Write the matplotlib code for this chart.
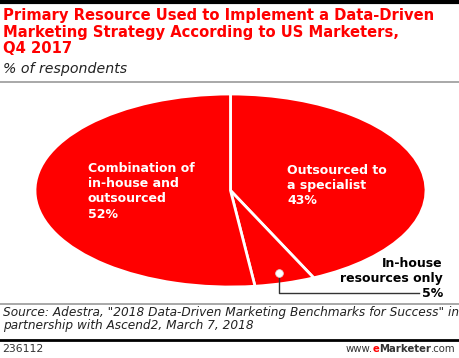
import numpy as np
import matplotlib.pyplot as plt
from matplotlib.lines import Line2D

# data
labels = ['Outsourced to\na specialist', 'In-house\nresources only', 'Combination of\nin-house and\noutsourced']
values = [43, 5, 52]
title = 'Primary Resource Used to Implement a Data-Driven\nMarketing Strategy According to US Marketers,\nQ4 2017'
subtitle = '% of respondents'
source = ('Source: Adestra, "2018 Data-Driven Marketing Benchmarks for Success" in\n'
          'partnership with Ascend2, March 7, 2018')
chart_id = '236112'

RED = '#ff0000'
W, H = 460, 358

fig = plt.figure(figsize=(W / 100, H / 100), dpi=100)
plt.rcParams['font.family'] = 'DejaVu Sans'


def fx(x):
    return x / W


def fy(y):
    return 1 - y / H


def hline(y, color, lw, x0=0, x1=W):
    fig.add_artist(Line2D([fx(x0), fx(x1)], [fy(y), fy(y)], color=color, lw=lw,
                          transform=fig.transFigure))


# header / footer rules
hline(2, 'black', 3)
hline(82, '#999999', 1.2)
hline(304, '#999999', 1.2)
hline(340, 'black', 2)

fig.text(fx(3), fy(8), title, color=RED, fontsize=10.65, fontweight='bold',
         va='top', ha='left', linespacing=1.14)
fig.text(fx(3), fy(62), subtitle, fontsize=10.2, style='italic', va='top', ha='left',
         color='#222222')
fig.text(fx(3), fy(306), source, fontsize=8.7, style='italic', va='top', ha='left',
         color='#222222', linespacing=1.02)
fig.text(fx(2), fy(344), chart_id, fontsize=7.8, va='top', ha='left', color='#333333')
ufs = 7.3
t1 = fig.text(fx(456), fy(344), '.com', fontsize=ufs, va='top', ha='right', color='#333333')
fig.canvas.draw()
r = fig.canvas.get_renderer()
bb = t1.get_window_extent(r)
t2 = fig.text(bb.x0 / W, fy(344), 'Marketer', fontsize=ufs, va='top', ha='right',
              color='#333333', fontweight='bold')
bb = t2.get_window_extent(r)
t3 = fig.text(bb.x0 / W, fy(344), 'e', fontsize=ufs, va='top', ha='right',
              color=RED, fontweight='bold')
bb = t3.get_window_extent(r)
fig.text(bb.x0 / W, fy(344), 'www.', fontsize=ufs, va='top', ha='right', color='#333333')

# pie (elliptical), clockwise from 12 o'clock
cx0, cx1, cy0, cy1 = 35, 426, 94, 287
ax = fig.add_axes([fx(cx0), fy(cy1), (cx1 - cx0) / W, (cy1 - cy0) / H])
wedges, _ = ax.pie(values, colors=[RED] * len(values), startangle=90, counterclock=False,
                   wedgeprops=dict(edgecolor='white', linewidth=2))
ax.set_aspect('auto')
ax.set_xlim(-1, 1)
ax.set_ylim(-1, 1)
ax.axis('off')

fs = 9.0
ls = 1.22
fig.text(fx(287), fy(164), labels[0] + '\n%d%%' % values[0], color='white', fontsize=fs,
         fontweight='bold', va='top', ha='left', linespacing=ls)
fig.text(fx(88), fy(162), labels[2] + '\n%d%%' % values[2], color='white', fontsize=fs,
         fontweight='bold', va='top', ha='left', linespacing=ls)
fig.text(fx(443), fy(257), labels[1] + '\n%d%%' % values[1], color='black', fontsize=fs,
         fontweight='bold', va='top', ha='right', linespacing=ls, multialignment='right')

# leader for the small slice
mid = np.deg2rad(90 - (values[0] + values[1] / 2) * 3.6)
dx, dy = 0.89 * np.cos(mid), 0.89 * np.sin(mid)
ax.plot([dx, dx, 0.965], [dy, -1.062, -1.062], color='#333333', lw=1, clip_on=False)
ax.plot(dx, dy, 'o', ms=5.5, mfc='white', mec='#dddddd', mew=0.6, clip_on=False)

fig.savefig('out.png', dpi=100)
